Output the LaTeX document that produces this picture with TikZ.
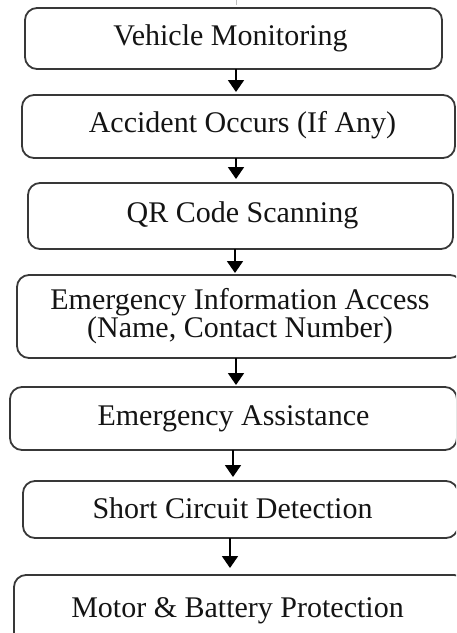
\documentclass[tikz,border=0pt]{standalone}
\usepackage{fontspec}
\setmainfont{Liberation Serif}
\usetikzlibrary{arrows.meta}

\tikzset{
  stepbox/.style={draw=black!78, line width=1.8pt, rounded corners=12pt,
    rectangle, inner sep=0pt, outer sep=0pt},
  steptext/.style={inner sep=0pt, outer sep=0pt, text=black!92,
    font=\fontsize{30}{28}\selectfont},
  flow/.style={line width=1.9pt, draw=black,
    -{Triangle[width=16pt,length=12pt]}},
}

\begin{document}
\begin{tikzpicture}[x=1pt,y=-1pt]
\useasboundingbox (0,0) rectangle (456,633);
\clip (0,0) rectangle (456,633);

% boxes
\node[stepbox, minimum width=417pt, minimum height=61pt] (b1) at (233.5,38.5) {};
\node[stepbox, minimum width=433pt, minimum height=63pt] (b2) at (238.5,126.5) {};
\node[stepbox, minimum width=425pt, minimum height=66pt] (b3) at (240.5,216) {};
\node[stepbox, minimum width=445pt, minimum height=83pt] (b4) at (239.5,316.5) {};
\node[stepbox, minimum width=447pt, minimum height=63pt] (b5) at (233.5,418.5) {};
\node[stepbox, minimum width=435pt, minimum height=57pt] (b6) at (240.5,509.5) {};
\node[stepbox, minimum width=452pt, minimum height=75pt] (b7) at (240,612.5) {};

% labels
\node[steptext, anchor=base] (t1) at (230.5,45) {Vehicle Monitoring};
\node[steptext, anchor=base] (t2) at (242.5,132) {Accident Occurs (If Any)};
\node[steptext, anchor=base] (t3) at (242.5,222) {QR Code Scanning};
\node[steptext, align=center] (t4) at (240,316.5) {Emergency Information Access\\(Name, Contact Number)};
\node[steptext, anchor=base] (t5) at (233.5,425) {Emergency Assistance};
\node[steptext, anchor=base] (t6) at (232.5,518) {Short Circuit Detection};
\node[steptext, anchor=base] (t7) at (237.5,617) {Motor \& Battery Protection};

% incoming stub above the first box
\coordinate (in) at (236,0);
\draw[line width=1pt, black!25, shorten >=3pt] (in) -- (b1.north -| in);

% connectors
\draw[flow, shorten >=3pt] (b1.south -| 236,0) -- (b2.north -| 236,0);
\draw[flow, shorten >=4pt] (b2.south -| 236,0) -- (b3.north -| 236,0);
\draw[flow, shorten >=2pt] (b3.south -| 235,0) -- (b4.north -| 235,0);
\draw[flow, shorten >=2pt] (b4.south -| 236,0) -- (b5.north -| 236,0);
\draw[flow, shorten >=4pt] (b5.south -| 233,0) -- (b6.north -| 233,0);
\draw[flow, shorten >=7pt] (b6.south -| 230,0) -- (b7.north -| 230,0);
\end{tikzpicture}
\end{document}
